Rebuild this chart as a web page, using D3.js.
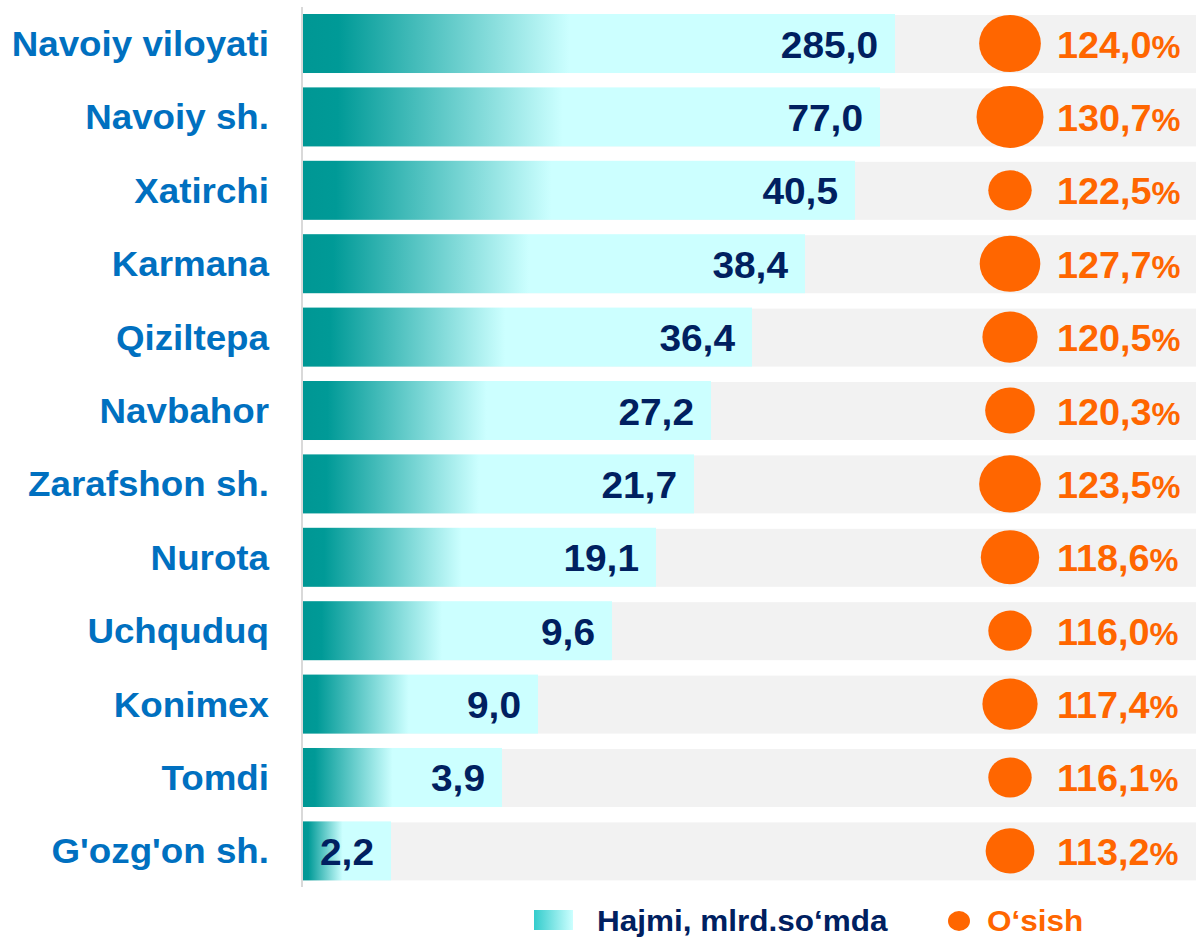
<!DOCTYPE html>
<html>
<head>
	<meta charset="utf-8">
	<title>Navoiy - hajmi va o'sish</title>
	<script src="https://d3js.org/d3.v7.min.js"></script>
	<style>
		body { margin:0; background:#fff; }
		text { font-family: 'Liberation Sans', Arial, sans-serif; font-weight: 700; }
		.cat-label { fill: #0070c0; font-size: 35px; }
		.val-label { fill: #002060; font-size: 37px; }
		.pct-label { fill: #ff6600; font-size: 36px; }
		.legend-text { font-size: 30px; }
	</style>
</head>
<body>
<script>
	// data
	var regions = ["Navoiy viloyati", "Navoiy sh.", "Xatirchi", "Karmana", "Qiziltepa", "Navbahor",
		"Zarafshon sh.", "Nurota", "Uchquduq", "Konimex", "Tomdi", "G'ozg'on sh."];
	var volume = [285.0, 77.0, 40.5, 38.4, 36.4, 27.2, 21.7, 19.1, 9.6, 9.0, 3.9, 2.2];
	var growth = [124.0, 130.7, 122.5, 127.7, 120.5, 120.3, 123.5, 118.6, 116.0, 117.4, 116.1, 113.2];
	// relative bubble size (estimated from the circle areas)
	var bubble = [85, 100, 42, 82, 68, 55, 85, 76, 42, 68, 42, 53];

	var W = 1196, H = 938;
	var left = 303, right = 1196;
	var sx = 1.05; // source picture is slightly stretched horizontally

	var svg = d3.select("body").append("svg")
		.attr("width", W)
		.attr("height", H);

	var defs = svg.append("defs");
	var grad = defs.append("linearGradient").attr("id", "barGrad");
	grad.append("stop").attr("offset", "0%").attr("stop-color", "#009794");
	grad.append("stop").attr("offset", "6%").attr("stop-color", "#009a97");
	grad.append("stop").attr("offset", "45%").attr("stop-color", "#ccffff");
	grad.append("stop").attr("offset", "100%").attr("stop-color", "#ccffff");

	var lgGrad = defs.append("linearGradient").attr("id", "legGrad");
	lgGrad.append("stop").attr("offset", "0%").attr("stop-color", "#33cccc");
	lgGrad.append("stop").attr("offset", "100%").attr("stop-color", "#ccffff");

	var y = d3.scaleBand()
		.domain(regions)
		.range([14, 880.4])
		.paddingInner(0.196)
		.paddingOuter(0);

	// the bars of the original are not proportional: a hand-tuned, monotone axis
	var sorted = volume.slice().sort(d3.ascending);
	var x = d3.scaleLinear()
		.domain(sorted)
		.range([391, 502, 538, 612, 656, 694, 711, 752, 805, 855, 880, 895]);

	var r = d3.scaleSqrt()
		.domain([0, 100])
		.range([0, 31]);

	var rows = regions.map((d, i) => ({name: d, v: volume[i], g: growth[i], b: bubble[i]}));

	// grey background strips
	svg.append("g").selectAll("rect")
		.data(rows)
		.enter().append("rect")
			.attr("x", left)
			.attr("y", d => y(d.name) + 1)
			.attr("width", right - left)
			.attr("height", y.bandwidth() - 1)
			.attr("fill", "#f2f2f2");

	// bars
	svg.append("g").selectAll("rect")
		.data(rows)
		.enter().append("rect")
			.attr("x", left)
			.attr("y", d => y(d.name))
			.attr("width", d => x(d.v) - left)
			.attr("height", y.bandwidth())
			.attr("fill", "url(#barGrad)");

	// axis line
	svg.append("line")
		.attr("x1", 302).attr("x2", 302)
		.attr("y1", 7).attr("y2", 887)
		.attr("stroke", "#d9d9d9")
		.attr("stroke-width", 2);

	function place(xp, yp) {
		return "translate(" + xp + "," + yp + ") scale(" + sx + ",1)";
	}

	// category labels
	svg.append("g").selectAll("text")
		.data(rows)
		.enter().append("text")
			.attr("class", "cat-label")
			.attr("text-anchor", "end")
			.attr("transform", d => place(269, y(d.name) + y.bandwidth() / 2 + 12.5))
			.text(d => d.name);

	var fmt = v => v.toFixed(1).replace(".", ",");

	// value labels
	svg.append("g").selectAll("text")
		.data(rows)
		.enter().append("text")
			.attr("class", "val-label")
			.attr("text-anchor", "end")
			.attr("transform", d => place(x(d.v) - 17, y(d.name) + y.bandwidth() / 2 + 14))
			.text(d => fmt(d.v));

	// growth bubbles
	svg.append("g").selectAll("ellipse")
		.data(rows)
		.enter().append("ellipse")
			.attr("cx", 1010)
			.attr("cy", d => y(d.name) + y.bandwidth() / 2)
			.attr("rx", d => r(d.b) * 1.08)
			.attr("ry", d => r(d.b))
			.attr("fill", "#ff6600");

	var pct = svg.append("g").selectAll("text")
		.data(rows)
		.enter().append("text")
			.attr("class", "pct-label")
			.attr("transform", d => place(1057, y(d.name) + y.bandwidth() / 2 + 14));
	pct.append("tspan").text(d => fmt(d.g));
	pct.append("tspan").style("font-size", "31px").text("%");

	// legend
	var lg = svg.append("g");
	lg.append("rect")
		.attr("x", 534).attr("y", 910)
		.attr("width", 39).attr("height", 20)
		.attr("fill", "url(#legGrad)");
	lg.append("text")
		.attr("class", "legend-text")
		.attr("fill", "#002060")
		.attr("transform", place(597, 931))
		.text("Hajmi, mlrd.so‘mda");
	lg.append("ellipse")
		.attr("cx", 959).attr("cy", 921)
		.attr("rx", 11).attr("ry", 10)
		.attr("fill", "#ff6600");
	lg.append("text")
		.attr("class", "legend-text")
		.attr("fill", "#ff6600")
		.attr("transform", place(987, 931))
		.text("O‘sish");
</script>
</body>
</html>
